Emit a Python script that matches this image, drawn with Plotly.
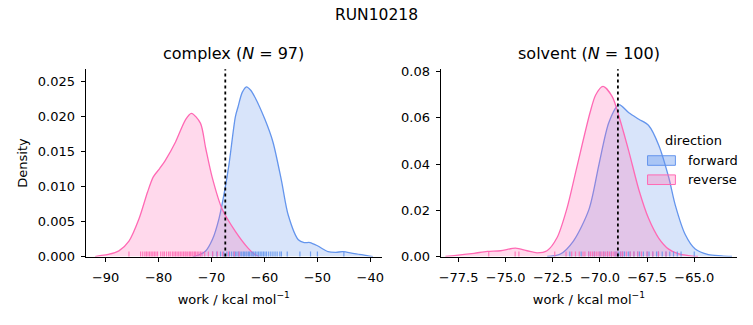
import plotly.graph_objects as go

W, H = 753, 325

# ---------------- data ----------------
suptitle = "RUN10218"
panel_titles = ["complex (<i>N</i> = 97)", "solvent (<i>N</i> = 100)"]
directions = ["forward", "reverse"]

# complex KDE curves
cx_fwd_x = [-73.5, -72.5, -71.1, -69.8, -68.6, -67.5, -66.7, -65.5, -65.0, -64.2, -63.4, -62.6, -61.8,
            -59.9, -58.4, -56.8, -55.5, -53.6, -52.5, -51.4, -49.9, -48.0, -46.5, -45.2, -43.0, -40.4, -39.5]
cx_fwd_y = [0.0, 0.0002, 0.0008, 0.0025, 0.0054, 0.0095, 0.0132, 0.0200, 0.0214, 0.0235, 0.0243, 0.0238, 0.0228,
            0.0196, 0.0164, 0.0109, 0.0059, 0.0024, 0.0020, 0.0020, 0.0015, 0.0007, 0.0006, 0.0007, 0.0004, 0.0001, 0.0]
cx_rev_x = [-92.0, -91.3, -89.5, -87.5, -85.6, -83.7, -82.1, -81.0, -79.8, -78.7, -76.8, -74.9, -73.8, -72.1,
            -71.1, -69.9, -68.0, -65.5, -63.1, -62.0, -61.0]
cx_rev_y = [0.0, 0.0001, 0.0003, 0.0008, 0.0022, 0.0054, 0.0092, 0.0114, 0.0126, 0.0138, 0.0164, 0.0196, 0.0205,
            0.0191, 0.0155, 0.0114, 0.0068, 0.0036, 0.0012, 0.0004, 0.0]

# solvent KDE curves
sv_fwd_x = [-72.8, -72.1, -71.41, -70.58, -70.05, -69.53, -69.0, -68.47, -67.94, -67.42, -66.89, -66.36,
            -66.0, -65.48, -64.95, -64.25, -63.55, -63.0]
sv_fwd_y = [0.0, 0.0011, 0.0067, 0.0205, 0.040, 0.058, 0.0657, 0.0622, 0.0594, 0.0567, 0.0483, 0.0344,
            0.022, 0.0095, 0.0032, 0.0008, 0.0003, 0.0]
sv_rev_x = [-78.2, -77.74, -76.68, -75.98, -75.27, -74.48, -73.87, -73.34, -72.81, -72.28, -71.76, -71.23,
            -70.53, -70.23, -69.84, -69.35, -69.0, -68.47, -67.94, -67.42, -66.89, -66.36, -65.83, -65.3, -64.8]
sv_rev_y = [0.0, 0.0004, 0.0014, 0.0022, 0.0025, 0.0036, 0.0025, 0.0016, 0.0025, 0.0081, 0.0206, 0.0386,
            0.0622, 0.0699, 0.0736, 0.0692, 0.0608, 0.0455, 0.0289, 0.0164, 0.0080, 0.0032, 0.0011, 0.0004, 0.0]

# rug samples (work values)
cx_fwd_rug = [-69.8, -69.0, -68.3, -67.7, -67.1, -66.6, -66.2, -65.8, -65.5, -65.2, -64.9, -64.6, -64.3, -64.0,
              -63.8, -63.5, -63.3, -63.0, -62.8, -62.5, -62.2, -62.0, -61.7, -61.4, -61.1, -60.8, -60.5, -60.2,
              -59.9, -59.6, -59.2, -58.8, -58.4, -58.0, -57.6, -57.1, -56.8, -55.7, -53.3, -51.3, -50.0, -45.0]
cx_rev_rug = [-85.6, -83.4, -83.0, -82.6, -82.3, -82.0, -81.7, -81.4, -81.1, -80.8, -80.5, -80.2, -79.6, -79.2,
              -78.9, -78.5, -78.1, -77.8, -77.4, -77.1, -76.8, -76.5, -76.2, -75.9, -75.6, -75.3, -75.0, -74.8,
              -74.5, -74.2, -74.0, -73.7, -73.5, -73.2, -73.0, -72.7, -72.4, -72.1, -71.8, -71.3, -70.6, -69.8,
              -68.9, -67.9, -66.8, -65.7, -64.8]
sv_fwd_rug = [-71.6, -71.0, -70.6, -70.3, -70.0, -69.8, -69.6, -69.4, -69.2, -69.1, -69.0, -68.9, -68.8, -68.7,
              -68.5, -68.4, -68.2, -68.0, -67.9, -67.7, -67.5, -67.4, -67.2, -67.0, -66.9, -66.7, -66.5, -66.3,
              -66.1, -65.9, -65.7, -65.0]
sv_rev_rug = [-75.9, -74.5, -74.3, -72.4, -71.8, -71.5, -71.3, -71.1, -70.9, -70.8, -70.6, -70.5, -70.4, -70.3,
              -70.2, -70.1, -70.0, -69.9, -69.8, -69.7, -69.6, -69.5, -69.4, -69.3, -69.2, -69.1, -68.9, -68.8,
              -68.6, -68.4, -68.2, -68.0, -67.8, -67.5, -67.2, -66.9, -66.5]

# vertical dotted reference lines
ref_lines = [-67.4, -69.05]

# ticks
cx_xticks = [-90, -80, -70, -60, -50, -40]
cx_xtext = ["\u221290", "\u221280", "\u221270", "\u221260", "\u221250", "\u221240"]
cx_yticks = [0.0, 0.005, 0.010, 0.015, 0.020, 0.025]
cx_ytext = ["0.000", "0.005", "0.010", "0.015", "0.020", "0.025"]
sv_xticks = [-77.5, -75.0, -72.5, -70.0, -67.5, -65.0]
sv_xtext = ["\u221277.5", "\u221275.0", "\u221272.5", "\u221270.0", "\u221267.5", "\u221265.0"]
sv_yticks = [0.0, 0.02, 0.04, 0.06, 0.08]
sv_ytext = ["0.00", "0.02", "0.04", "0.06", "0.08"]

# ---------------- style ----------------
BLUE = "#6495ED"
PINK = "#FF69B4"
BLUE_FILL = "rgba(100,149,237,0.25)"
PINK_FILL = "rgba(255,105,180,0.25)"
FONT = "DejaVu Sans"

def px(x):
    return x / W

def py(y):
    return 1 - y / H

dom_x1 = [px(84), px(382)]
dom_x2 = [px(441), px(739)]
dom_y = [py(262), py(67)]

fig = go.Figure()

def add_curve(x, y, color, fill, xa, ya):
    fig.add_trace(go.Scatter(x=x, y=y, mode="lines", line=dict(color=color, width=1.3, shape="spline", smoothing=0.8),
                             fill="tozeroy", fillcolor=fill, xaxis=xa, yaxis=ya, showlegend=False, hoverinfo="skip"))

add_curve(cx_fwd_x, cx_fwd_y, BLUE, BLUE_FILL, "x", "y")
add_curve(cx_rev_x, cx_rev_y, PINK, PINK_FILL, "x", "y")
add_curve(sv_fwd_x, sv_fwd_y, BLUE, BLUE_FILL, "x2", "y2")
add_curve(sv_rev_x, sv_rev_y, PINK, PINK_FILL, "x2", "y2")

shapes = []

def add_rug(vals, color, xref, yref):
    for v in vals:
        shapes.append(dict(type="line", xref=xref, yref=yref, x0=v, x1=v, y0=0, y1=0.027,
                           line=dict(color=color, width=1.2), opacity=0.85, layer="above"))

add_rug(cx_fwd_rug, BLUE, "x", "y domain")
add_rug(cx_rev_rug, PINK, "x", "y domain")
add_rug(sv_fwd_rug, BLUE, "x2", "y2 domain")
add_rug(sv_rev_rug, PINK, "x2", "y2 domain")

for v, xr, yr in zip(ref_lines, ["x", "x2"], ["y domain", "y2 domain"]):
    shapes.append(dict(type="line", xref=xr, yref=yr, x0=v, x1=v, y0=0, y1=1,
                       line=dict(color="black", width=1.8, dash="dot"), layer="above"))

# manual legend
legend_items = [(BLUE, "rgba(100,149,237,0.4)", 162), (PINK, "rgba(255,105,180,0.3)", 182)]
for c, f, yc in legend_items:
    shapes.append(dict(type="rect", xref="paper", yref="paper", x0=px(649), x1=px(677), y0=py(yc + 5), y1=py(yc - 5),
                       line=dict(color=c, width=1), fillcolor=f, layer="above"))

annotations = [
    dict(text=suptitle, x=0.5, y=py(10), xref="paper", yref="paper", showarrow=False,
         font=dict(size=15.5, color="black", family=FONT), xanchor="center", yanchor="middle"),
    dict(text=panel_titles[0], x=(dom_x1[0] + dom_x1[1]) / 2, y=py(51), xref="paper", yref="paper", showarrow=False,
         font=dict(size=16, color="black", family=FONT), xanchor="center", yanchor="middle"),
    dict(text=panel_titles[1], x=(dom_x2[0] + dom_x2[1]) / 2, y=py(51), xref="paper", yref="paper", showarrow=False,
         font=dict(size=16, color="black", family=FONT), xanchor="center", yanchor="middle"),
    dict(text="direction", x=px(695), y=py(141), xref="paper", yref="paper", showarrow=False,
         font=dict(size=13, color="black", family=FONT), xanchor="center", yanchor="middle"),
]
for (c, f, yc), name in zip(legend_items, directions):
    annotations.append(dict(text=name, x=px(688), y=py(yc), xref="paper", yref="paper", showarrow=False,
                            font=dict(size=13, color="black", family=FONT), xanchor="left", yanchor="middle"))

axis_common = dict(showgrid=False, zeroline=False, showline=True, linecolor="black", linewidth=1,
                   ticks="outside", ticklen=4, tickwidth=1, tickcolor="black",
                   tickfont=dict(size=13, color="black", family=FONT))

xlabel = "work / kcal mol<sup>\u22121</sup>"

fig.update_layout(
    width=W, height=H, margin=dict(l=0, r=0, t=0, b=0),
    paper_bgcolor="white", plot_bgcolor="white",
    font=dict(family=FONT, color="black"),
    shapes=shapes, annotations=annotations, showlegend=False,
    xaxis=dict(domain=dom_x1, range=[-93.8, -37.8], tickvals=cx_xticks, ticktext=cx_xtext, anchor="y",
               ticklabelstandoff=5,
               title=dict(text=xlabel, font=dict(size=13, family=FONT), standoff=10), **axis_common),
    yaxis=dict(domain=dom_y, range=[0, 0.0268], tickvals=cx_yticks, ticktext=cx_ytext, anchor="x",
               ticklabelstandoff=3,
               title=dict(text="Density", font=dict(size=13, family=FONT), standoff=7), **axis_common),
    xaxis2=dict(domain=dom_x2, range=[-78.45, -62.73], tickvals=sv_xticks, ticktext=sv_xtext, anchor="y2",
                ticklabelstandoff=5,
                title=dict(text=xlabel, font=dict(size=13, family=FONT), standoff=10), **axis_common),
    yaxis2=dict(domain=dom_y, range=[0, 0.081], tickvals=sv_yticks, ticktext=sv_ytext, anchor="x2",
                ticklabelstandoff=3, **axis_common),
)

fig.write_html("out.html")
